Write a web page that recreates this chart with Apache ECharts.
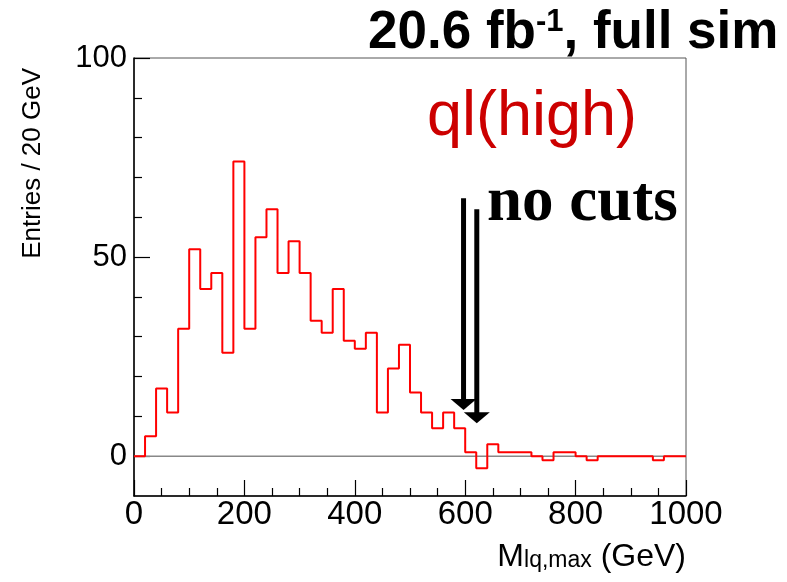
<!DOCTYPE html>
<html>
<head>
<meta charset="utf-8">
<script src="https://cdn.jsdelivr.net/npm/echarts@6/dist/echarts.min.js"></script>
<style>
  html, body { margin: 0; padding: 0; background: #fff; }
  #chart { width: 787px; height: 582px; }
</style>
</head>
<body>
<div id="chart"></div>
<script>
// Entries per 20 GeV bin, M_lq,max from 0 to 1000 GeV
const BIN_WIDTH = 20;
const counts = [
  0, 5, 17, 11, 32, 52, 42, 46, 26, 74,
  32, 55, 62, 46, 54, 46, 34, 31, 42, 29,
  27, 31, 11, 22, 28, 16, 11, 7, 11, 7,
  1, -3, 3, 1, 1, 1, 0, -1, 1, 1,
  0, -1, 0, 0, 0, 0, 0, -1, 0, 0
];

// axis ticks
const xTicks = [0, 200, 400, 600, 800, 1000];
const yMajorTicks = [0, 50, 100];
const yMinorTicks = [10, 20, 30, 40, 60, 70, 80, 90];

// cut arrows: [x (GeV), top, tip]
const arrows = [
  [597, 64.8, 11.6],
  [621, 62.0, 8.3]
];

const SANS = "'Liberation Sans', Arial, sans-serif";
const SERIF = "'Liberation Serif', 'Times New Roman', serif";

// histogram outline as a step line through the bin low edges
const edges = counts.map((_, i) => i * BIN_WIDTH);
const stepData = edges.map((e, i) => [e, counts[i]]);
stepData.push([edges[edges.length - 1] + BIN_WIDTH, counts[counts.length - 1]]);

const chart = echarts.init(document.getElementById('chart'), null, { renderer: 'canvas' });

const option = {
  animation: false,
  backgroundColor: '#ffffff',
  grid: {
    left: 134, right: 101, top: 58, bottom: 86,
    show: true, borderColor: '#555', borderWidth: 1, backgroundColor: 'transparent'
  },
  xAxis: {
    type: 'value',
    min: xTicks[0], max: xTicks[xTicks.length - 1], interval: 200,
    axisLine: { onZero: false, lineStyle: { color: '#000', width: 1.5 } },
    axisTick: { inside: true, length: 16, lineStyle: { color: '#000', width: 1.2 } },
    minorTick: { show: true, splitNumber: 4, length: 8, lineStyle: { color: '#000', width: 1.2 } },
    axisLabel: { fontFamily: SANS, fontSize: 33, color: '#000', margin: 2, formatter: v => String(v) },
    splitLine: { show: false },
    minorSplitLine: { show: false }
  },
  yAxis: [
    {
      type: 'value', min: -10, max: 100, position: 'left',
      axisLine: { show: true, onZero: false, lineStyle: { color: '#000', width: 1.5 } },
      axisTick: { show: true, inside: true, length: 16, customValues: yMajorTicks, lineStyle: { color: '#000', width: 1.2 } },
      axisLabel: { customValues: yMajorTicks, fontFamily: SANS, fontSize: 31, color: '#000', margin: 7, formatter: v => String(v) },
      splitLine: { show: false }
    },
    {
      type: 'value', min: -10, max: 100, position: 'left', offset: 0,
      axisLine: { show: false },
      axisTick: { show: true, inside: true, length: 8, customValues: yMinorTicks, lineStyle: { color: '#000', width: 1.2 } },
      axisLabel: { show: false },
      splitLine: { show: false }
    }
  ],
  series: [
    {
      // zero reference line
      type: 'line', xAxisIndex: 0, yAxisIndex: 0, z: 1,
      data: [[xTicks[0], 0], [xTicks[xTicks.length - 1], 0]],
      symbol: 'none', silent: true,
      lineStyle: { color: '#888', width: 1.5 }
    },
    {
      type: 'line', xAxisIndex: 0, yAxisIndex: 0, z: 3,
      data: stepData, step: 'end', symbol: 'none',
      lineStyle: { color: '#ff0000', width: 2 }
    },
    {
      type: 'custom', xAxisIndex: 0, yAxisIndex: 0, z: 4,
      data: arrows,
      renderItem: function (params, api) {
        const top = api.coord([api.value(0), api.value(1)]);
        const tip = api.coord([api.value(0), api.value(2)]);
        const headH = 11, headW = 26, shaftW = 5;
        return {
          type: 'group',
          children: [
            { type: 'rect', shape: { x: top[0] - shaftW / 2, y: top[1], width: shaftW, height: tip[1] - headH - top[1] + 1 }, style: { fill: '#000' } },
            { type: 'polygon', shape: { points: [[tip[0] - headW / 2, tip[1] - headH], [tip[0] + headW / 2, tip[1] - headH], [tip[0], tip[1]]] }, style: { fill: '#000' } }
          ]
        };
      }
    }
  ],
  graphic: [
    {
      type: 'text', left: 368, top: 7, z: 10,
      style: {
        text: '{a|20.6 fb}{s|-1}{a|, full sim}',
        rich: {
          a: { fontFamily: SANS, fontWeight: 'bold', fontSize: 53, fill: '#000' },
          s: { fontFamily: SANS, fontWeight: 'bold', fontSize: 31, fill: '#000', verticalAlign: 'top' }
        }
      }
    },
    {
      type: 'text', left: 427, top: 86, z: 10,
      style: { text: 'ql(high)', fontFamily: SANS, fontSize: 63, fill: '#cc0000' }
    },
    {
      type: 'text', left: 487, top: 172, z: 10,
      style: { text: 'no cuts', fontFamily: SERIF, fontWeight: 'bold', fontSize: 63, fill: '#000' }
    },
    {
      type: 'text', x: 33, y: 68, rotation: Math.PI / 2, z: 10,
      style: { text: 'Entries / 20 GeV', fontFamily: SANS, fontSize: 26, fill: '#000', textAlign: 'right', textVerticalAlign: 'middle' }
    },
    {
      type: 'text', right: 101, top: 541, z: 10,
      style: {
        text: '{m|M}{s|lq,max}{m| (GeV)}',
        rich: {
          m: { fontFamily: SANS, fontSize: 32, fill: '#000', padding: [0, 0, 8, 0] },
          s: { fontFamily: SANS, fontSize: 23, fill: '#000' }
        }
      }
    }
  ]
};

chart.setOption(option);
</script>
</body>
</html>
